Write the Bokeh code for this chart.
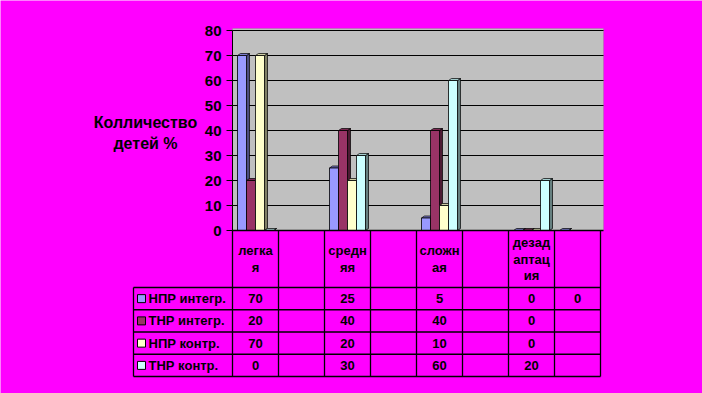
from bokeh.plotting import figure
from bokeh.models import Range1d, SingleIntervalTicker, BoxAnnotation, LinearAxis
from bokeh.core.properties import value
from bokeh.embed import file_html
from bokeh.resources import INLINE

# ---------------- data ----------------
categories = ["легкая", "", "средняя", "", "сложная", "", "дезадаптация", ""]
series_names = ["НПР интегр.", "ТНР интегр.", "НПР контр.", "ТНР контр."]
npr_integr = [70, None, 25, None, 5, None, 0, 0]
tnr_integr = [20, None, 40, None, 40, None, 0, None]
npr_kontr = [70, None, 20, None, 10, None, 0, None]
tnr_kontr = [0, None, 30, None, 60, None, 20, None]
series_values = [npr_integr, tnr_integr, npr_kontr, tnr_kontr]
y_ticks = [0, 10, 20, 30, 40, 50, 60, 70, 80]
axis_title = ["Колличество", "детей %"]

# ---------------- style ----------------
FONT = "Liberation Sans"
MAGENTA = "#FF00FF"
front_colors = ["#9999FF", "#993366", "#FFFFCC", "#CCFFFF"]
side_colors = ["#4D4D80", "#4D1A33", "#808066", "#668080"]
top_colors = ["#7A7ACC", "#7A2952", "#CCCCA3", "#A3CCCC"]

W, H = 702, 393
axis_px = 232          # pixel column of the value axis
zero_px = 230          # pixel row of value 0
ppu = 46.0             # pixels per category
ypu = 2.5              # pixels per value unit
n = len(categories)

def px_x(px):
    return (px - axis_px) / ppu

def px_y(py):
    return (zero_px - py) / ypu

p = figure(width=W, height=H, output_backend="svg", toolbar_location=None,
           x_range=Range1d(px_x(0), px_x(W)), y_range=Range1d(px_y(H), px_y(0)),
           x_axis_location=None, y_axis_location=None,
           min_border_left=0, min_border_right=0, min_border_top=0, min_border_bottom=0)
p.background_fill_color = MAGENTA
p.border_fill_color = MAGENTA
p.outline_line_color = None
p.grid.visible = False

x_end = n + 3 / ppu
y_top = px_y(28)
p.add_layout(BoxAnnotation(left=0, right=x_end, bottom=0, top=y_top,
                           fill_color="#C0C0C0", fill_alpha=1.0,
                           line_color="#808080", line_width=1, level="underlay"))

# gridlines from the tick values
p.segment(x0=0, y0=y_ticks[1:], x1=x_end, y1=y_ticks[1:], line_color="black", line_width=1)

ax = LinearAxis(fixed_location=0, ticker=SingleIntervalTicker(interval=10),
                bounds=(y_ticks[0], y_ticks[-1]))
ax.axis_line_color = "black"
ax.major_tick_line_color = "black"
ax.major_tick_out = 6
ax.major_tick_in = 0
ax.minor_tick_line_color = None
ax.major_label_standoff = 5
ax.major_label_text_font = FONT
ax.major_label_text_font_style = "bold"
ax.major_label_text_font_size = "15px"
ax.major_label_text_color = "black"
p.add_layout(ax, "left")

# 3D-looking bars
bw = 9 / ppu
dx = 3 / ppu
dy = 2 / ypu
off = 5 / ppu
side_xs, side_ys, side_c = [], [], []
top_xs, top_ys, top_c = [], [], []
fl, fr, ft, fc = [], [], [], []
for k, vals in enumerate(series_values):
    for i, v in enumerate(vals):
        if v is None:
            continue
        x0 = i + off + k * bw
        x1 = x0 + bw
        side_xs.append([x1, x1 + dx, x1 + dx, x1])
        side_ys.append([0, dy, v + dy, v])
        side_c.append(side_colors[k])
        top_xs.append([x0, x0 + dx, x1 + dx, x1])
        top_ys.append([v, v + dy, v + dy, v])
        top_c.append(top_colors[k])
        fl.append(x0); fr.append(x1); ft.append(v); fc.append(front_colors[k])

p.patches(side_xs, side_ys, fill_color=side_c, line_color="black", line_width=0.7)
p.patches(top_xs, top_ys, fill_color=top_c, line_color="black", line_width=0.7)
p.quad(left=fl, right=fr, bottom=0, top=ft, fill_color=fc,
       line_color="black", line_width=0.8)

# value axis title
p.text(x=[px_x(145)] * len(axis_title), y=[px_y(122 + j * 21) for j in range(len(axis_title))],
       text=axis_title, text_align="center", text_baseline="middle",
       text_font=value(FONT), text_font_style="bold", text_font_size="16px",
       text_color="black")

# ---------------- data table ----------------
header_bottom = px_y(287)
row_h = 22.25 / ypu
row_lines = [header_bottom - r * row_h for r in range(len(series_names) + 1)]
row_centers = [header_bottom - (r + 0.5) * row_h for r in range(len(series_names))]
x_left = px_x(133)
LW = 1.3

p.segment(x0=0, y0=0, x1=x_end, y1=0, line_color="black", line_width=1.5)
p.segment(x0=list(range(n + 1)), y0=0, x1=list(range(n + 1)), y1=row_lines[-1],
          line_color="black", line_width=LW)
p.segment(x0=[x_left], y0=[row_lines[0]], x1=[x_left], y1=[row_lines[-1]],
          line_color="black", line_width=LW)
p.segment(x0=x_left, y0=row_lines, x1=n, y1=row_lines, line_color="black", line_width=LW)

# category labels, wrapped every 5 characters as in the narrow cells
cx, cy, ct = [], [], []
head_mid = header_bottom / 2
for i, c in enumerate(categories):
    chunks = [c[s:s + 5] for s in range(0, len(c), 5)]
    for j, ch in enumerate(chunks):
        cx.append(i + 0.5)
        cy.append(head_mid - (j - (len(chunks) - 1) / 2) * 16.5 / ypu)
        ct.append(ch)
p.text(x=cx, y=cy, text=ct, text_align="center", text_baseline="middle",
       text_font=value(FONT), text_font_style="bold", text_font_size="13px",
       text_color="black")

# legend keys and row labels
p.scatter(x=[px_x(141)] * len(series_names), y=row_centers, marker="square",
          size=8, fill_color=front_colors, line_color="black", line_width=1)
p.text(x=[px_x(148)] * len(series_names), y=row_centers, text=series_names,
       text_align="left", text_baseline="middle", text_font=value(FONT),
       text_font_style="bold", text_font_size="13px", text_color="black")

# table values
vx, vy, vt = [], [], []
for r, vals in enumerate(series_values):
    for i, v in enumerate(vals):
        if v is None:
            continue
        vx.append(i + 0.5); vy.append(row_centers[r]); vt.append(str(v))
p.text(x=vx, y=vy, text=vt, text_align="center", text_baseline="middle",
       text_font=value(FONT), text_font_style="bold", text_font_size="13px",
       text_color="black")

open("out.html", "w").write(file_html(p, INLINE))
